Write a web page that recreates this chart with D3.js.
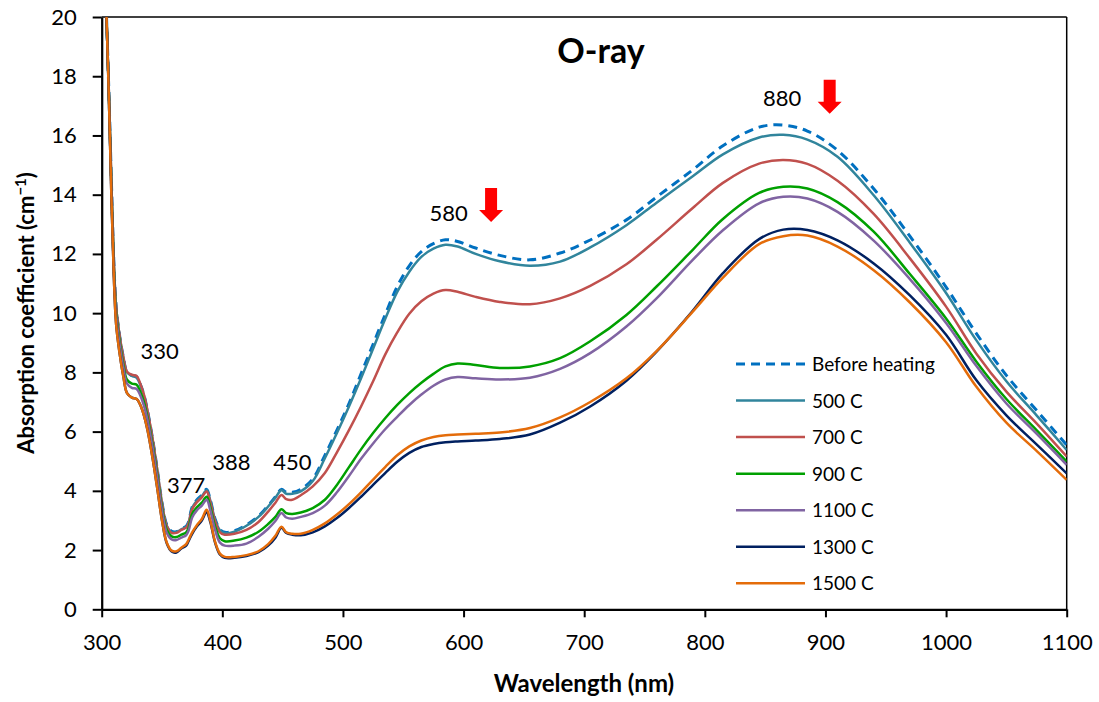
<!DOCTYPE html>
<html><head><meta charset="utf-8">
<script src="https://cdn.jsdelivr.net/npm/d3@7"></script>
<style>body{margin:0;background:#fff}svg{display:block}text{font-family:Lato,"Noto Sans",sans-serif}</style>
</head><body><svg id="c" width="1099" height="702"></svg>
<script>
const wavelengths=[304,306,308,310,312,315,318,321,325,329,332,335,338,342,346,350,354,358,362,366,370,372,375,379,383,387,390,394,398,402,410,420,430,438,444,449,453,458,465,475,485,495,505,515,525,535,545,555,565,575,585,595,610,630,655,680,705,735,760,790,815,845,865,885,910,940,970,1000,1025,1050,1075,1100];
const beforeHeating=[20,17.4,14.5,11.8,10.2,9.2,8.5,8.0,7.9,7.85,7.6,7.25,6.7,5.8,4.75,3.6,2.85,2.63,2.62,2.72,2.8,2.95,3.45,3.7,3.85,4.05,3.7,3.05,2.7,2.6,2.65,2.85,3.15,3.5,3.8,4.05,3.95,3.95,4.05,4.4,5.2,6.05,6.95,7.95,8.95,9.95,10.9,11.6,12.08,12.35,12.48,12.42,12.2,11.95,11.8,12.03,12.47,13.15,13.92,14.84,15.65,16.28,16.35,16.15,15.5,14.2,12.6,10.88,9.32,7.9,6.72,5.55];
const c500=[20,17.4,14.5,11.8,10.2,9.2,8.5,8.0,7.88,7.82,7.58,7.22,6.68,5.78,4.72,3.57,2.82,2.6,2.6,2.7,2.78,2.92,3.42,3.67,3.82,4.02,3.68,3.02,2.67,2.57,2.62,2.82,3.12,3.47,3.77,4.02,3.9,3.9,3.98,4.33,5.1,5.95,6.85,7.8,8.8,9.8,10.72,11.4,11.9,12.18,12.31,12.25,12.0,11.75,11.6,11.74,12.22,12.97,13.73,14.62,15.36,15.93,16.02,15.86,15.28,13.98,12.38,10.68,9.09,7.7,6.55,5.38];
const c700=[20,17.4,14.5,11.8,10.2,9.2,8.5,8.02,7.92,7.88,7.62,7.25,6.7,5.8,4.72,3.57,2.8,2.58,2.58,2.68,2.76,2.9,3.38,3.62,3.78,3.98,3.62,2.98,2.6,2.52,2.55,2.68,2.95,3.3,3.6,3.86,3.72,3.7,3.85,4.15,4.6,5.3,6.05,6.85,7.7,8.6,9.35,9.98,10.4,10.66,10.78,10.72,10.55,10.38,10.3,10.5,10.92,11.65,12.48,13.55,14.4,15.05,15.17,15.04,14.47,13.35,11.85,10.22,8.64,7.35,6.28,5.16];
const c900=[20,17.3,14.3,11.6,10.0,9.0,8.25,7.75,7.62,7.58,7.35,7.0,6.48,5.6,4.55,3.42,2.68,2.46,2.44,2.52,2.6,2.75,3.22,3.45,3.6,3.8,3.45,2.8,2.4,2.3,2.32,2.42,2.62,2.88,3.12,3.38,3.25,3.22,3.27,3.42,3.7,4.2,4.8,5.4,5.95,6.45,6.9,7.3,7.65,7.95,8.2,8.3,8.25,8.15,8.2,8.48,9.05,9.94,10.9,12.14,13.18,14.06,14.27,14.21,13.75,12.75,11.32,9.82,8.37,7.1,6.05,4.99];
const c1100=[20,17.3,14.25,11.5,9.9,8.9,8.15,7.62,7.48,7.44,7.22,6.88,6.38,5.5,4.45,3.33,2.58,2.36,2.34,2.42,2.5,2.65,3.1,3.35,3.5,3.7,3.35,2.68,2.25,2.15,2.15,2.22,2.45,2.72,2.98,3.25,3.1,3.06,3.12,3.25,3.5,3.95,4.5,5.08,5.6,6.08,6.5,6.9,7.25,7.55,7.76,7.84,7.8,7.76,7.82,8.12,8.65,9.55,10.5,11.8,12.8,13.71,13.93,13.87,13.42,12.45,11.15,9.67,8.22,6.95,5.93,4.88];
const c1300=[20,17.2,14.0,11.3,9.6,8.6,7.85,7.3,7.15,7.1,6.9,6.55,6.05,5.15,4.1,3.0,2.22,1.95,1.92,2.05,2.15,2.3,2.55,2.8,3.0,3.28,2.95,2.25,1.85,1.74,1.74,1.8,1.93,2.15,2.42,2.75,2.58,2.52,2.5,2.6,2.8,3.08,3.42,3.8,4.2,4.6,4.98,5.28,5.48,5.58,5.64,5.67,5.7,5.75,5.9,6.3,6.85,7.72,8.7,10.08,11.35,12.5,12.82,12.81,12.46,11.68,10.6,9.27,7.74,6.55,5.57,4.59];
const c1500=[20,17.2,14.0,11.3,9.6,8.6,7.85,7.3,7.15,7.1,6.9,6.55,6.05,5.15,4.1,3.0,2.25,1.98,1.96,2.08,2.2,2.35,2.6,2.85,3.05,3.36,3.0,2.28,1.88,1.77,1.77,1.83,1.96,2.2,2.48,2.79,2.6,2.55,2.55,2.68,2.9,3.2,3.55,3.95,4.38,4.8,5.2,5.5,5.7,5.82,5.88,5.9,5.93,5.97,6.12,6.48,7.0,7.8,8.72,10.05,11.2,12.33,12.6,12.62,12.25,11.45,10.36,9.02,7.52,6.3,5.35,4.37];
const seriesNames=["Before heating","500 C","700 C","900 C","1100 C","1300 C","1500 C"];
const seriesValues=[beforeHeating,c500,c700,c900,c1100,c1300,c1500];
const seriesColors=["#0070C0","#31859C","#C0504D","#00A000","#8064A2","#002060","#E46C0A"];
const xTicks=[300,400,500,600,700,800,900,1000,1100];
const yTicks=[0,2,4,6,8,10,12,14,16,18,20];
const peakLabels=[{t:"330",w:348,v:8.45},{t:"377",w:370,v:3.93},{t:"388",w:407.6,v:4.71},{t:"450",w:458,v:4.71},{t:"580",w:587.6,v:13.12},{t:"880",w:864,v:17.0}];
const arrows=[{w:622.8,v:14.23},{w:903.5,v:17.88}];

const svg=d3.select("#c");
const x=d3.scaleLinear().domain([300,1100]).range([101.7,1066.7]);
const y=d3.scaleLinear().domain([0,20]).range([609.3,17]);

svg.append("defs").append("clipPath").attr("id","clip").append("rect")
  .attr("x",x(300)).attr("y",y(20)).attr("width",x(1100)-x(300)).attr("height",y(0)-y(20));

svg.append("line").attr("x1",x(300)).attr("x2",x(1100)).attr("y1",y(20)).attr("y2",y(20)).attr("stroke","#000").attr("stroke-width",1.5);
svg.append("line").attr("x1",x(1100)).attr("x2",x(1100)).attr("y1",y(20)).attr("y2",y(0)).attr("stroke","#000").attr("stroke-width",1.5);

const line=d3.line().x((d,i)=>x(wavelengths[i])).y(d=>y(d)).curve(d3.curveCatmullRom.alpha(0.5));
const g=svg.append("g").attr("clip-path","url(#clip)");
seriesValues.forEach((vals,k)=>{
  g.append("path").datum(vals).attr("d",line).attr("fill","none")
   .attr("stroke",seriesColors[k]).attr("stroke-width",k===0?3:2.5)
   .attr("stroke-dasharray",k===0?"9,6":null).attr("stroke-linejoin","round");
});

const xa=svg.append("g").attr("transform",`translate(0,${y(0)})`)
  .call(d3.axisBottom(x).tickValues(xTicks).tickFormat(d3.format("d")).tickSize(8).tickSizeOuter(0).tickPadding(17));
const ya=svg.append("g").attr("transform",`translate(${x(300)},0)`)
  .call(d3.axisLeft(y).tickValues(yTicks).tickFormat(d3.format("d")).tickSize(9).tickSizeOuter(0).tickPadding(16));
[xa,ya].forEach(a=>{
  a.select(".domain").attr("stroke","#000").attr("stroke-width",2.25);
  a.selectAll(".tick line").attr("stroke","#000").attr("stroke-width",2);
  a.selectAll(".tick text").attr("font-size",22).attr("fill","#000").attr("font-family","Lato");
});

svg.append("text").attr("x",601).attr("y",63).attr("text-anchor","middle").attr("font-size",34).attr("font-weight","bold").text("O-ray");
svg.append("text").attr("x",584).attr("y",692).attr("text-anchor","middle").attr("font-size",24).attr("font-weight","bold").text("Wavelength (nm)");
const yt=svg.append("text").attr("transform","translate(34,313) rotate(-90)").attr("text-anchor","middle").attr("font-size",22).attr("font-weight","bold");
yt.append("tspan").text("Absorption coefficient (cm");
yt.append("tspan").attr("dy",-8).attr("font-size",15).text("−1");
yt.append("tspan").attr("dy",8).text(")");

svg.selectAll(".pk").data(peakLabels).join("text").attr("class","pk")
  .attr("x",d=>x(d.w)).attr("y",d=>y(d.v)).attr("text-anchor","middle").attr("font-size",22).attr("fill","#000").text(d=>d.t);

arrows.forEach(a=>{
  const cx=x(a.w), top=y(a.v);
  const p=`M${cx-6},${top} L${cx+6},${top} L${cx+6},${top+22} L${cx+12},${top+22} L${cx},${top+34} L${cx-12},${top+22} L${cx-6},${top+22} Z`;
  svg.append("path").attr("d",p).attr("fill","#FF0000");
});

const lg=svg.append("g");
seriesNames.forEach((n,k)=>{
  const yy=364+k*36.55;
  lg.append("line").attr("x1",736).attr("x2",805).attr("y1",yy).attr("y2",yy)
    .attr("stroke",seriesColors[k]).attr("stroke-width",k===0?3:2.5).attr("stroke-dasharray",k===0?"9,6":null);
  lg.append("text").attr("x",812).attr("y",yy+7).attr("font-size",19).attr("fill","#000").text(n);
});
</script></body></html>
